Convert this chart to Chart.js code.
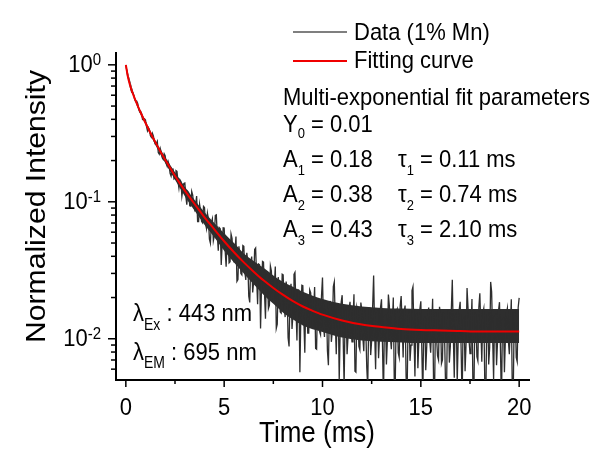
<!DOCTYPE html>
<html>
<head>
<meta charset="utf-8">
<script src="https://cdn.jsdelivr.net/npm/chart.js@4.4.0/dist/chart.umd.min.js"></script>
<style>
  html, body { margin: 0; padding: 0; background: #fff; }
  #wrap { width: 600px; height: 452px; }
</style>
</head>
<body>
<div id="wrap"><canvas id="myChart" width="600" height="452"></canvas></div>
<script>
// measured decay (1% Mn), one value every 0.05 ms starting at t = 0
const dataStart = 0;
const dataStep = 0.05;
const dataValues = [
  0.99, 0.907, 0.816, 0.784, 0.726, 0.669, 0.631, 0.625, 0.603, 0.558,
  0.540, 0.543, 0.524, 0.484, 0.454, 0.459, 0.442, 0.399, 0.400, 0.403,
  0.395, 0.356, 0.330, 0.347, 0.336, 0.304, 0.296, 0.317, 0.303, 0.276,
  0.263, 0.266, 0.276, 0.229, 0.223, 0.245, 0.230, 0.210, 0.204, 0.224,
  0.217, 0.191, 0.182, 0.197, 0.186, 0.161, 0.154, 0.172, 0.173, 0.147,
  0.149, 0.169, 0.167, 0.142, 0.126, 0.145, 0.141, 0.110, 0.123, 0.136,
  0.137, 0.110, 0.0954, 0.119, 0.116, 0.0936, 0.0931, 0.119, 0.112, 0.0941,
  0.0879, 0.0958, 0.110, 0.0717, 0.0717, 0.0958, 0.0859, 0.0722, 0.0704, 0.0927,
  0.091, 0.0695, 0.0639, 0.0824, 0.0748, 0.0534, 0.0499, 0.0706, 0.0752, 0.052,
  0.0567, 0.0795, 0.0802, 0.0571, 0.0439, 0.0648, 0.0636, 0.0346, 0.0495, 0.0645,
  0.0643, 0.0442, 0.0336, 0.0535, 0.0526, 0.0358, 0.0365, 0.0581, 0.054, 0.0404,
  0.0364, 0.0437, 0.0558, 0.0263, 0.0271, 0.0473, 0.0402, 0.030, 0.0293, 0.0479,
  0.0473, 0.0307, 0.0269, 0.0424, 0.037, 0.0205, 0.0184, 0.0355, 0.0398, 0.0218,
  0.0261, 0.0448, 0.0459, 0.0279, 0.0179, 0.0351, 0.0347, 0.0119, 0.0243, 0.0367,
  0.0363, 0.0216, 0.014, 0.0293, 0.0289, 0.0166, 0.0175, 0.034, 0.0313, 0.0214,
  0.0187, 0.0244, 0.0337, 0.0119, 0.0128, 0.0282, 0.0231, 0.0157, 0.0154, 0.0296,
  0.0293, 0.0171, 0.0144, 0.0262, 0.0224, 0.0102, 0.0088, 0.0218, 0.0252, 0.0118,
  0.0152, 0.0295, 0.0305, 0.0171, 0.0097, 0.0228, 0.0226, 0.0057, 0.0151, 0.0246,
  0.0244, 0.0139, 0.0079, 0.0192, 0.0194, 0.011, 0.011, 0.0227, 0.0216, 0.0145,
  0.0124, 0.0167, 0.0239, 0.0085, 0.0084, 0.0195, 0.0163, 0.0113, 0.0107, 0.0207,
  0.028, 0.0125, 0.0103, 0.0188, 0.0185, 0.0082, 0.0064, 0.0161, 0.0189, 0.0095,
  0.0115, 0.024, 0.026, 0.0133, 0.0077, 0.0171, 0.0175, 0.0049, 0.0119, 0.0185,
  0.0208, 0.0103, 0.0045, 0.0158, 0.0161, 0.0077, 0.0105, 0.0166, 0.0186, 0.0115,
  0.0095, 0.0138, 0.0211, 0.0058, 0.0057, 0.0169, 0.0155, 0.0088, 0.0083, 0.0184,
  0.0162, 0.0103, 0.0081, 0.0166, 0.0121, 0.0062, 0.0044, 0.0141, 0.0169, 0.0076,
  0.0097, 0.0172, 0.029, 0.0115, 0.006, 0.0155, 0.0158, 0.0072, 0.0104, 0.017,
  0.0194, 0.009, 0.0035, 0.0145, 0.0148, 0.0065, 0.0098, 0.021, 0.0174, 0.0104,
  0.0084, 0.0128, 0.02, 0.0047, 0.0047, 0.0159, 0.0165, 0.0079, 0.0073, 0.0174,
  0.0205, 0.0128, 0.0073, 0.0158, 0.0175, 0.0053, 0.0036, 0.0133, 0.0162, 0.0069,
  0.009, 0.0225, 0.024, 0.0108, 0.0053, 0.0148, 0.0152, 0.0061, 0.0098, 0.0164,
  0.0188, 0.0083, 0.0036, 0.0139, 0.0142, 0.0059, 0.0088, 0.0149, 0.0169, 0.0099,
  0.0079, 0.0123, 0.0196, 0.0043, 0.0043, 0.0155, 0.0102, 0.0075, 0.007, 0.0171,
  0.0149, 0.0066, 0.007, 0.0155, 0.0118, 0.0051, 0.0034, 0.0131, 0.016, 0.0067,
  0.0088, 0.0162, 0.027, 0.0107, 0.0052, 0.0147, 0.0151, 0.0048, 0.0097, 0.0163,
  0.0186, 0.0082, 0.0034, 0.0138, 0.0141, 0.0058, 0.0092, 0.0235, 0.0168, 0.0098,
  0.0078, 0.0122, 0.0195, 0.0042, 0.0042, 0.0154, 0.0148, 0.0074, 0.0069, 0.017,
  0.0215, 0.0121, 0.0068, 0.0153, 0.0166, 0.0049, 0.0032, 0.0129, 0.0158, 0.0065,
  0.0086, 0.026, 0.022, 0.0105, 0.005, 0.0145, 0.0149, 0.0064, 0.0095, 0.0161,
  0.0185, 0.0081, 0.0033, 0.0137, 0.014, 0.0057, 0.0101, 0.0152, 0.0167, 0.0097,
  0.0077, 0.0121, 0.0194, 0.0041, 0.0041, 0.0153, 0.0158, 0.0073, 0.0068, 0.0169,
  0.0199
];

// edges of the dense dark core of the data trace
const bandTimes = [0, 0.5, 1, 1.5, 2, 2.5, 3, 3.5, 4, 4.5, 5, 5.5, 6, 6.5, 7, 7.5, 8, 8.5, 9,
  10, 11, 12, 13, 14, 15, 16, 17, 18, 19, 20];
const bandUpper = [1.0, 0.56, 0.39, 0.28, 0.212, 0.164, 0.129, 0.103, 0.084, 0.070, 0.059, 0.050,
  0.042, 0.037, 0.033, 0.029, 0.026, 0.024, 0.022, 0.0195, 0.018, 0.0172, 0.0168, 0.0166,
  0.0165, 0.0165, 0.0165, 0.0165, 0.0165, 0.0165];
const bandLower = [0.99, 0.53, 0.365, 0.26, 0.192, 0.145, 0.110, 0.086, 0.068, 0.055, 0.044,
  0.036, 0.030, 0.025, 0.021, 0.018, 0.0155, 0.0138, 0.0125, 0.0112, 0.0102, 0.0097, 0.0095,
  0.0094, 0.0093, 0.0093, 0.0093, 0.0093, 0.0093, 0.0093];

// red fitting curve
const fitTimes = [0, 0.1, 0.2, 0.3, 0.4, 0.5, 0.6, 0.8, 1.0, 1.2, 1.4, 1.6, 1.8, 2.0, 2.4, 2.8,
  3.2, 3.6, 4.0, 4.5, 5.0, 5.5, 6.0, 6.5, 7.0, 7.5, 8.0, 8.5, 9.0, 9.5, 10, 11, 12, 13, 14, 15,
  16, 17, 18, 19, 20];
const fitValues = [1.0, 0.826, 0.722, 0.649, 0.593, 0.546, 0.504, 0.434, 0.377, 0.329, 0.290,
  0.256, 0.227, 0.203, 0.163, 0.133, 0.110, 0.092, 0.077, 0.063, 0.0515, 0.0428, 0.0361, 0.0309,
  0.0267, 0.0235, 0.0209, 0.0188, 0.0172, 0.016, 0.015, 0.0136, 0.0127, 0.0122, 0.0118, 0.0116,
  0.0115, 0.0114, 0.0113, 0.0113, 0.0113];

// axes
const xMajorTicks = [0, 5, 10, 15, 20];
const xMinorTicks = [2.5, 7.5, 12.5, 17.5];
const yMajorTicks = [1, 0.1, 0.01];
const yExponents = ['0', '-1', '-2'];
const yMinorTicks = [0.006, 0.007, 0.008, 0.009, 0.02, 0.03, 0.04, 0.05, 0.06, 0.07, 0.08, 0.09,
  0.2, 0.3, 0.4, 0.5, 0.6, 0.7, 0.8, 0.9];

const legendLabels = ['Data (1% Mn)', 'Fitting curve'];
const paramTitle = 'Multi-exponential fit parameters';
const paramY0 = '0.01';
const paramA = ['0.18', '0.38', '0.43'];
const paramTau = ['0.11 ms', '0.74 ms', '2.10 ms'];
const excitation = '443 nm';
const emission = '695 nm';

const FONT = '"Liberation Sans", Arial, sans-serif';
const VS = 1.12; // text in the picture is a bit taller than wide
const DATA_COLOR = '#2e2e2e';

const dataPoints = dataValues.map((v, i) => ({ x: dataStart + i * dataStep, y: v }));
const fitPoints = fitTimes.map((t, i) => ({ x: t, y: fitValues[i] }));
const upperPoints = bandTimes.map((t, i) => ({ x: t, y: bandUpper[i] }));
const lowerPoints = bandTimes.map((t, i) => ({ x: t, y: bandLower[i] }));

function txt(ctx, s, x, y, size) {
  ctx.save();
  ctx.font = size + 'px ' + FONT;
  ctx.translate(x, y);
  ctx.scale(1, VS);
  ctx.fillText(s, 0, 0);
  ctx.restore();
}
function width(ctx, s, size) {
  ctx.font = size + 'px ' + FONT;
  return ctx.measureText(s).width;
}
// base text followed by a lowered subscript, returns x after it
function withSub(ctx, x, y, base, sub, size, subSize, drop) {
  txt(ctx, base, x, y, size);
  x += width(ctx, base, size);
  txt(ctx, sub, x, y + drop, subSize);
  return x + width(ctx, sub, subSize);
}

const decorations = {
  id: 'decorations',
  afterDraw(chart) {
    const { ctx, chartArea: area, scales: { x, y } } = chart;
    ctx.save();
    ctx.strokeStyle = '#000';
    ctx.fillStyle = '#000';
    ctx.lineWidth = 1.5;

    // tick marks
    const seg = (x1, y1, x2, y2) => { ctx.beginPath(); ctx.moveTo(x1, y1); ctx.lineTo(x2, y2); ctx.stroke(); };
    xMajorTicks.forEach(v => { const p = x.getPixelForValue(v); seg(p, area.bottom, p, area.bottom + 7); });
    xMinorTicks.forEach(v => { const p = x.getPixelForValue(v); seg(p, area.bottom, p, area.bottom + 4); });
    yMajorTicks.forEach(v => { const p = y.getPixelForValue(v); seg(area.left, p, area.left - 8, p); });
    yMinorTicks.forEach(v => { const p = y.getPixelForValue(v); seg(area.left, p, area.left - 5, p); });

    // tick labels
    ctx.textBaseline = 'alphabetic';
    ctx.textAlign = 'center';
    xMajorTicks.forEach(v => txt(ctx, String(v), x.getPixelForValue(v), area.bottom + 35, 22));

    ctx.textAlign = 'left';
    yMajorTicks.forEach((v, i) => {
      const p = y.getPixelForValue(v);
      const sw = width(ctx, yExponents[i], 15);
      const bw = width(ctx, '10', 22);
      const right = 101;
      txt(ctx, '10', right - sw - bw, p + 7.5, 22);
      txt(ctx, yExponents[i], right - sw, p + 0.5, 15);
    });

    // axis titles
    ctx.textAlign = 'center';
    txt(ctx, 'Time (ms)', 317, 442, 26);
    ctx.save();
    ctx.translate(45, 206.5);
    ctx.rotate(-Math.PI / 2);
    const tw = width(ctx, 'Normalized Intensity', 28);
    ctx.scale(273 / tw, 1);
    ctx.fillText('Normalized Intensity', 0, 0);
    ctx.restore();

    // legend
    ctx.textAlign = 'left';
    ctx.lineWidth = 1.2;
    ctx.strokeStyle = '#000';
    seg(293, 32, 347, 32);
    ctx.lineWidth = 2;
    ctx.strokeStyle = '#f00000';
    seg(293, 61, 347, 61);
    txt(ctx, legendLabels[0], 354, 40, 22);
    txt(ctx, legendLabels[1], 354, 68, 22);

    // fit parameters
    txt(ctx, paramTitle, 283, 105, 22);
    let xx = withSub(ctx, 283, 132, 'Y', '0', 22, 13, 6);
    txt(ctx, ' = ' + paramY0, xx, 132, 22);
    [167, 202, 237].forEach((by, i) => {
      let px = withSub(ctx, 283, by, 'A', String(i + 1), 22, 13, 8);
      txt(ctx, ' = ' + paramA[i], px, by, 22);
      px = withSub(ctx, 398, by, '\u03c4', String(i + 1), 22, 13, 8);
      txt(ctx, ' = ' + paramTau[i], px, by, 22);
    });

    // excitation / emission
    xx = withSub(ctx, 133, 321, '\u03bb', 'Ex', 22, 14, 9);
    txt(ctx, ' : ' + excitation, xx, 321, 22);
    xx = withSub(ctx, 133, 360, '\u03bb', 'EM', 22, 14, 8);
    txt(ctx, ' : ' + emission, xx, 360, 22);

    ctx.restore();
  }
};

new Chart(document.getElementById('myChart'), {
  type: 'line',
  data: {
    datasets: [
      {
        label: legendLabels[1],
        data: fitPoints,
        borderColor: '#f00000',
        borderWidth: 2,
        pointRadius: 0,
        cubicInterpolationMode: 'monotone',
        fill: false
      },
      {
        label: legendLabels[0],
        data: dataPoints,
        borderColor: DATA_COLOR,
        borderWidth: 1.3,
        pointRadius: 0,
        tension: 0,
        fill: false
      },
      {
        label: 'core upper',
        data: upperPoints,
        borderColor: DATA_COLOR,
        borderWidth: 0,
        backgroundColor: DATA_COLOR,
        pointRadius: 0,
        cubicInterpolationMode: 'monotone',
        fill: '+1'
      },
      {
        label: 'core lower',
        data: lowerPoints,
        borderColor: DATA_COLOR,
        borderWidth: 0,
        pointRadius: 0,
        cubicInterpolationMode: 'monotone',
        fill: false
      }
    ]
  },
  options: {
    responsive: false,
    animation: false,
    events: [],
    layout: { autoPadding: false, padding: { left: 116, right: 71, top: 53, bottom: 72 } },
    plugins: { legend: { display: false }, tooltip: { enabled: false } },
    scales: {
      x: {
        type: 'linear', min: -0.5, max: 20.5,
        ticks: { display: false },
        grid: { display: false, drawTicks: false },
        border: { display: true, color: '#000', width: 2 }
      },
      y: {
        type: 'logarithmic', min: 0.005, max: 1.22,
        ticks: { display: false },
        grid: { display: false, drawTicks: false },
        border: { display: true, color: '#000', width: 2 }
      }
    }
  },
  plugins: [decorations]
});
</script>
</body>
</html>
